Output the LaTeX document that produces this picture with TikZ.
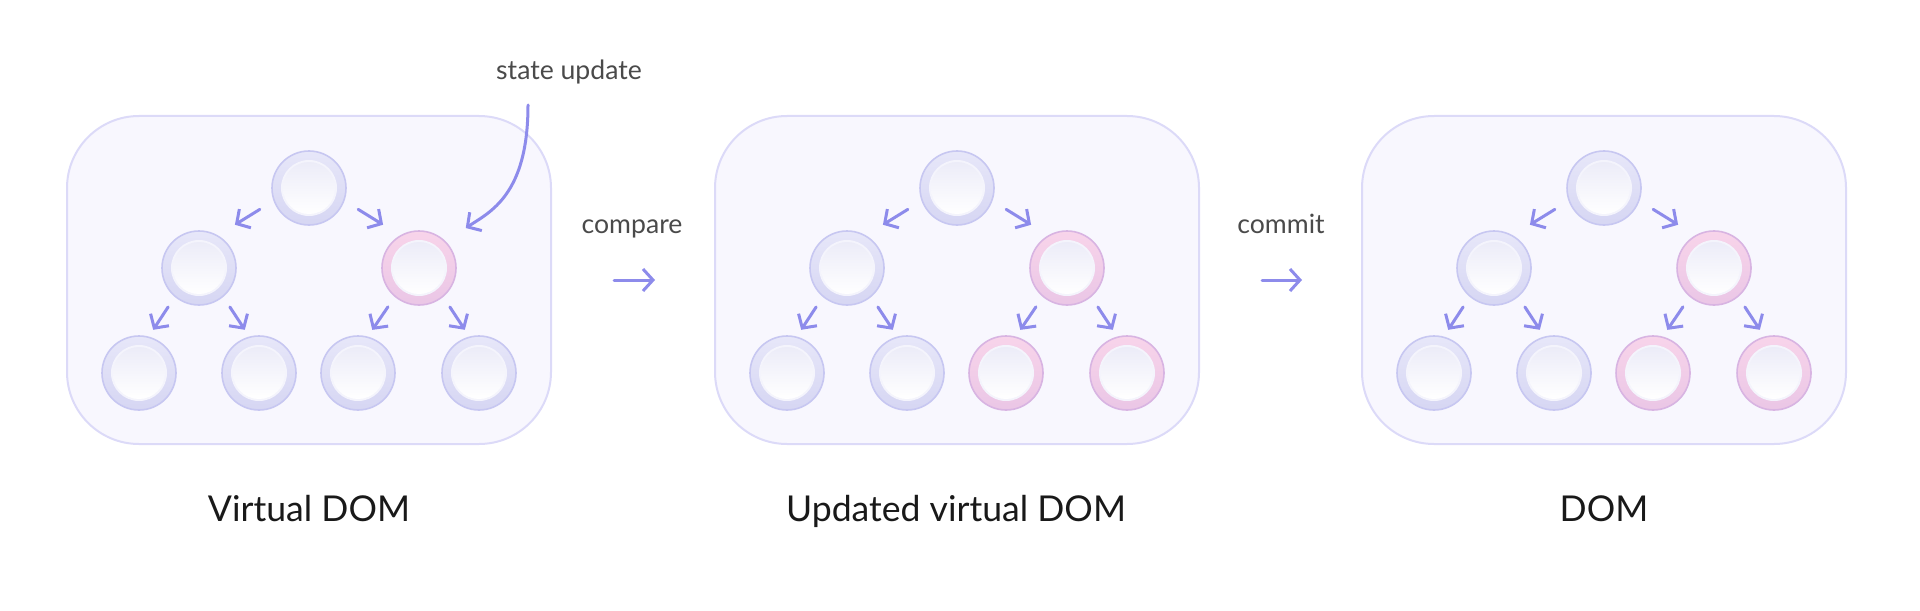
\documentclass[tikz,border=0pt]{standalone}
\usepackage{fontspec}
\setmainfont{Lato}
\usetikzlibrary{arrows.meta}

\definecolor{arrowc}{HTML}{8D8BEB}
\definecolor{panelfill}{HTML}{F8F7FE}
\definecolor{paneldraw}{HTML}{DCDAF8}
\definecolor{ringtop}{HTML}{E7E7F9}
\definecolor{ringbot}{HTML}{D6D6F3}
\definecolor{ringdraw}{HTML}{C7C7F1}
\definecolor{pinktop}{HTML}{F8D4EA}
\definecolor{pinkbot}{HTML}{EAC6E6}
\definecolor{pinkdraw}{HTML}{D8B4E2}
\definecolor{coretop}{HTML}{ECECF8}
\definecolor{corerim}{HTML}{F4F4FC}
\definecolor{labelc}{HTML}{4A4A4A}

\tikzset{
  panel/.style={draw=paneldraw, line width=1pt, fill=panelfill, rounded corners=36pt,
    minimum width=242pt, minimum height=164pt},
  core/.style={path picture={
    \fill[corerim] (path picture bounding box.center) circle (14pt);
    \shade[top color=coretop, bottom color=white] (path picture bounding box.center) circle (13pt);}},
  vnode/.style={circle, minimum size=37pt, inner sep=0pt, line width=0.8pt,
    draw=ringdraw, top color=ringtop, bottom color=ringbot, core},
  pnode/.style={vnode, draw=pinkdraw, top color=pinktop, bottom color=pinkbot},
  tarrow/.style={arrowc, line width=1.5pt, line cap=round, -{Straight Barb[length=5pt,width=11pt]}},
  lbl/.style={text=labelc, font=\fontsize{13.3}{16}\selectfont},
  boxtitle/.style={text=black!90, font=\fontsize{17.8}{21}\selectfont}
}

\begin{document}
\begin{tikzpicture}[x=0.5pt, y=-0.5pt]
\useasboundingbox (0,0) rectangle (1920,610);

% the three panels
\node[panel] (vbox) at (309,280) {};
\node[panel] (ubox) at (957,280) {};
\node[panel] (dbox) at (1604,280) {};

% virtual DOM tree
\node[vnode] (vroot) at (309,188) {};
\node[vnode] (vl) at (199,268) {};
\node[pnode] (vr) at (419,268) {};
\node[vnode] (vll) at (139,373) {};
\node[vnode] (vlr) at (259,373) {};
\node[vnode] (vrl) at (358,373) {};
\node[vnode] (vrr) at (479,373) {};

% updated virtual DOM tree
\node[vnode] (uroot) at (957,188) {};
\node[vnode] (ul) at (847,268) {};
\node[pnode] (ur) at (1067,268) {};
\node[vnode] (ull) at (787,373) {};
\node[vnode] (ulr) at (907,373) {};
\node[pnode] (url) at (1006,373) {};
\node[pnode] (urr) at (1127,373) {};

% real DOM tree
\node[vnode] (droot) at (1604,188) {};
\node[vnode] (dl) at (1494,268) {};
\node[pnode] (dr) at (1714,268) {};
\node[vnode] (dll) at (1434,373) {};
\node[vnode] (dlr) at (1554,373) {};
\node[pnode] (drl) at (1653,373) {};
\node[pnode] (drr) at (1774,373) {};

%parent to child arrows
\draw[tarrow, shorten <=8pt, shorten >=10pt] (vroot.200) -- (vl.60);
\draw[tarrow, shorten <=8pt, shorten >=10pt] (vroot.-20) -- (vr.120);
\draw[tarrow, shorten <=6pt, shorten >=4pt] (vl.-130) -- (vll.75);
\draw[tarrow, shorten <=6pt, shorten >=4pt] (vl.-50) -- (vlr.105);
\draw[tarrow, shorten <=6pt, shorten >=4pt] (vr.-130) -- (vrl.75);
\draw[tarrow, shorten <=6pt, shorten >=4pt] (vr.-50) -- (vrr.105);

\draw[tarrow, shorten <=8pt, shorten >=10pt] (uroot.200) -- (ul.60);
\draw[tarrow, shorten <=8pt, shorten >=10pt] (uroot.-20) -- (ur.120);
\draw[tarrow, shorten <=6pt, shorten >=4pt] (ul.-130) -- (ull.75);
\draw[tarrow, shorten <=6pt, shorten >=4pt] (ul.-50) -- (ulr.105);
\draw[tarrow, shorten <=6pt, shorten >=4pt] (ur.-130) -- (url.75);
\draw[tarrow, shorten <=6pt, shorten >=4pt] (ur.-50) -- (urr.105);

\draw[tarrow, shorten <=8pt, shorten >=10pt] (droot.200) -- (dl.60);
\draw[tarrow, shorten <=8pt, shorten >=10pt] (droot.-20) -- (dr.120);
\draw[tarrow, shorten <=6pt, shorten >=4pt] (dl.-130) -- (dll.75);
\draw[tarrow, shorten <=6pt, shorten >=4pt] (dl.-50) -- (dlr.105);
\draw[tarrow, shorten <=6pt, shorten >=4pt] (dr.-130) -- (drl.75);
\draw[tarrow, shorten <=6pt, shorten >=4pt] (dr.-50) -- (drr.105);

%state update comes in from above
\node[lbl, anchor=base] (su) at (569,80) {state update};
\coordinate (sustart) at (528,105);
\draw[tarrow, shorten >=12pt] (sustart) .. controls (528,195) and (490,212) .. (vr.45);

%steps between the panels
\node[lbl, anchor=base] (cmp) at (632,233) {compare};
\draw[tarrow, shorten <=31pt, shorten >=29.5pt] (vbox) -- (ubox);
\node[lbl, anchor=base] (cmt) at (1281,233) {commit};
\draw[tarrow, shorten <=31pt, shorten >=29.5pt] (ubox) -- (dbox);

%panel titles
\node[boxtitle, anchor=base] (vt) at (309,521) {Virtual DOM};
\node[boxtitle, anchor=base] (ut) at (956,521) {Updated virtual DOM};
\node[boxtitle, anchor=base] (dt) at (1604,521) {DOM};
\end{tikzpicture}
\end{document}
